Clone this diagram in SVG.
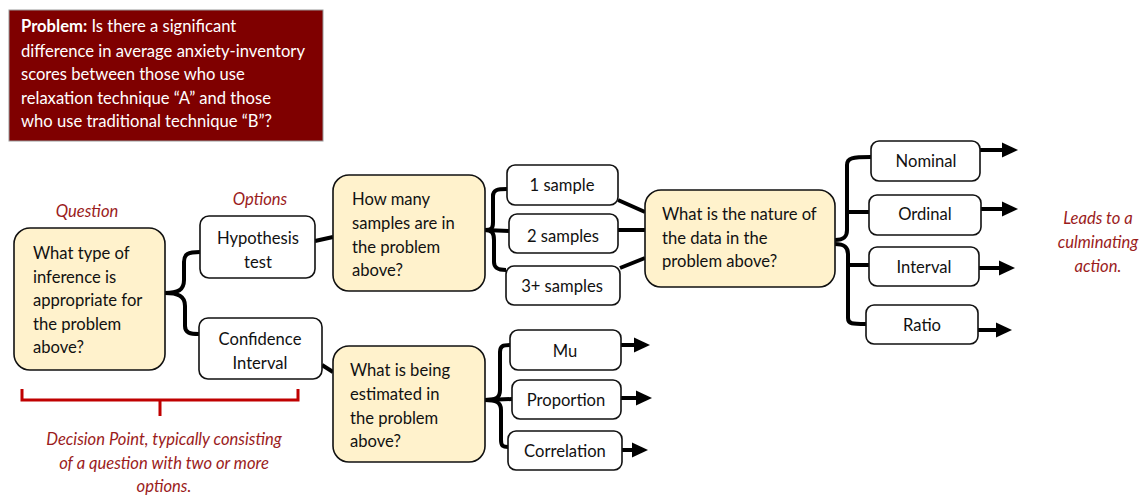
<svg xmlns="http://www.w3.org/2000/svg" xmlns:xlink="http://www.w3.org/1999/xlink" width="1144" height="495" viewBox="0 0 1144 495">
<style>
.t{font-family:Lato,"Open Sans",sans-serif;font-size:16.6px;fill:#111}
.c{text-anchor:middle}
.q{fill:#fff2cc;stroke:#111;stroke-width:1.6}
.o{fill:#fff;stroke:#111;stroke-width:1.6}
.lab{font-family:Lato,"Open Sans",sans-serif;font-size:16.6px;font-style:italic;fill:#9b1c1c;text-anchor:middle}
.w{font-family:Lato,"Open Sans",sans-serif;font-size:16.6px;fill:#fff}
.cn{fill:none;stroke:#000;stroke-width:4;stroke-linejoin:round}
.ar{fill:none;stroke:#000;stroke-width:4}
</style>
<defs>
<path id="head" d="M-16,-7.5 L0,0 L-16,7.5 z" fill="#000"/>
</defs>

<g id="problem">
<rect x="9" y="10" width="314" height="131" fill="#7f0000" stroke="#999" stroke-width="1"/>
<text class="w" x="21" y="32"><tspan font-weight="bold">Problem:</tspan> Is there a significant</text>
<text class="w" x="21" y="57">difference in average anxiety-inventory</text>
<text class="w" x="21" y="80">scores between those who use</text>
<text class="w" x="21" y="104">relaxation technique “A” and those</text>
<text class="w" x="21" y="127">who use traditional technique “B”?</text>
</g>

<g id="connectors">
<path class="cn" d="M165,293 C178,293 184,290 184,280 L184,262 C184,254 188,252 200,252"/>
<path class="cn" d="M165,293 C178,293 185,296 185,306 L185,326 C185,333 190,334 199,334"/>
<path class="cn" d="M315,241 L333,237"/>
<path class="cn" d="M322,365 L333,372"/>
<path class="cn" d="M485,230 C492,230 493,228 493,222 L493,196 C493,190 497,189 507,189"/>
<path class="cn" d="M485,230 L509,231"/>
<path class="cn" d="M485,230 C492,230 494,233 494,240 L494,262 C494,268 498,270 506,270"/>
<path class="cn" d="M618,200 L645,212"/>
<path class="cn" d="M618,230 L645,230"/>
<path class="cn" d="M620,268 L645,258"/>
<path class="cn" d="M835,240 C844,240 847,237 847,230 L847,165 C847,158 852,157 871,157"/>
<path class="cn" d="M847,212 L869,212"/>
<path class="cn" d="M835,244 C844,244 848,247 848,254 L848,265 L869,265"/>
<path class="cn" d="M848,260 L848,318 C848,324 852,324 866,324"/>
<path class="cn" d="M485,400 C496,400 500,398 500,390 L500,352 C500,346 503,345 510,345"/>
<path class="cn" d="M485,400 L512,399"/>
<path class="cn" d="M485,400 C496,400 501,402 501,410 L501,440 C501,446 503,447 508,447"/>
<path class="ar" d="M980,150 L1004,150"/><use xlink:href="#head" x="1018" y="150"/>
<path class="ar" d="M981,209 L1004,209"/><use xlink:href="#head" x="1018" y="209"/>
<path class="ar" d="M979,268 L1001,268"/><use xlink:href="#head" x="1015" y="268"/>
<path class="ar" d="M978,330 L998,330"/><use xlink:href="#head" x="1012" y="330"/>
<path class="ar" d="M621,345 L636,345"/><use xlink:href="#head" x="650" y="345"/>
<path class="ar" d="M621,398 L638,398"/><use xlink:href="#head" x="652" y="398"/>
<path class="ar" d="M622,450 L634,450"/><use xlink:href="#head" x="648" y="450"/>
</g>

<g id="question">
<rect class="q" x="14" y="228" width="151" height="142" rx="16"/>
<text class="t" x="33" y="259">What type of</text>
<text class="t" x="33" y="283">inference is</text>
<text class="t" x="33" y="306">appropriate for</text>
<text class="t" x="33" y="330">the problem</text>
<text class="t" x="33" y="353">above?</text>
</g>

<g id="hypothesis">
<rect class="o" x="200" y="216" width="115" height="62" rx="9"/>
<text class="t c" x="258" y="244">Hypothesis</text>
<text class="t c" x="258" y="268">test</text>
</g>

<g id="confidence">
<rect class="o" x="199" y="318" width="123" height="61" rx="9"/>
<text class="t c" x="260" y="345">Confidence</text>
<text class="t c" x="260" y="369">Interval</text>
</g>

<g id="howmany">
<rect class="q" x="333" y="175" width="152" height="116" rx="16"/>
<text class="t" x="352" y="205">How many</text>
<text class="t" x="352" y="229">samples are in</text>
<text class="t" x="352" y="253">the problem</text>
<text class="t" x="352" y="276">above?</text>
</g>

<g id="s1">
<rect class="o" x="507" y="165" width="111" height="40" rx="8"/>
<text class="t c" x="562" y="191">1 sample</text>
</g>
<g id="s2">
<rect class="o" x="509" y="214" width="109" height="39" rx="8"/>
<text class="t c" x="563" y="242">2 samples</text>
</g>
<g id="s3">
<rect class="o" x="506" y="266" width="114" height="39" rx="8"/>
<text class="t c" x="562" y="292">3+ samples</text>
</g>

<g id="nature">
<rect class="q" x="645" y="190" width="190" height="97" rx="16"/>
<text class="t" x="662" y="220">What is the nature of</text>
<text class="t" x="662" y="244">the data in the</text>
<text class="t" x="662" y="267">problem above?</text>
</g>

<g id="nominal">
<rect class="o" x="871" y="141" width="109" height="40" rx="8"/>
<text class="t c" x="926" y="167">Nominal</text>
</g>
<g id="ordinal">
<rect class="o" x="869" y="195" width="112" height="40" rx="8"/>
<text class="t c" x="925" y="220">Ordinal</text>
</g>
<g id="interval">
<rect class="o" x="869" y="247" width="110" height="39" rx="8"/>
<text class="t c" x="924" y="273">Interval</text>
</g>
<g id="ratio">
<rect class="o" x="866" y="305" width="112" height="39" rx="8"/>
<text class="t c" x="922" y="331">Ratio</text>
</g>

<g id="estimated">
<rect class="q" x="333" y="346" width="152" height="116" rx="16"/>
<text class="t" x="350" y="376">What is being</text>
<text class="t" x="350" y="400">estimated in</text>
<text class="t" x="350" y="424">the problem</text>
<text class="t" x="350" y="447">above?</text>
</g>

<g id="mu">
<rect class="o" x="510" y="330" width="111" height="40" rx="8"/>
<text class="t c" x="565" y="357">Mu</text>
</g>
<g id="proportion">
<rect class="o" x="512" y="380" width="109" height="39" rx="8"/>
<text class="t c" x="566" y="406">Proportion</text>
</g>
<g id="correlation">
<rect class="o" x="508" y="431" width="114" height="39" rx="8"/>
<text class="t c" x="565" y="457">Correlation</text>
</g>

<g id="labels">
<text class="lab" x="87" y="217">Question</text>
<text class="lab" x="260" y="205">Options</text>
<path d="M22,389 L22,400 L298,400 L298,389 M160,400 L160,416" fill="none" stroke="#c00000" stroke-width="3"/>
<text class="lab" x="164" y="445">Decision Point, typically consisting</text>
<text class="lab" x="164" y="469">of a question with two or more</text>
<text class="lab" x="164" y="492">options.</text>
<text class="lab" x="1098" y="224">Leads to a</text>
<text class="lab" x="1098" y="248">culminating</text>
<text class="lab" x="1098" y="272">action.</text>
</g>
</svg>
